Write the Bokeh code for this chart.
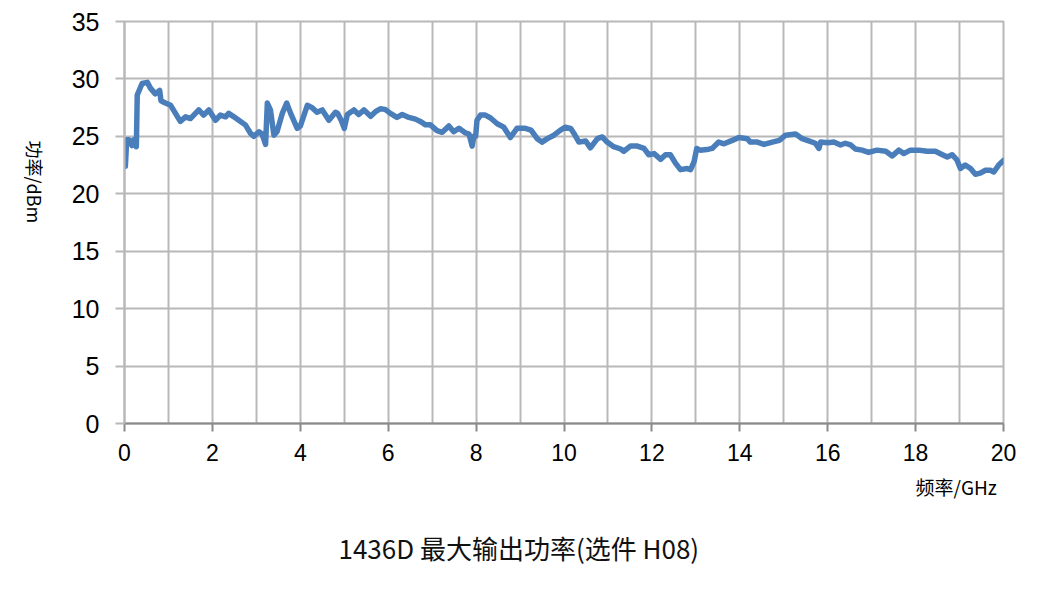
import math
from bokeh.plotting import figure
from bokeh.models import ColumnDataSource, Range1d, FixedTicker, Title, LinearAxis
from bokeh.embed import file_html
from bokeh.resources import INLINE

# frequency (GHz) and max output power (dBm)
freq_ghz = [
    0.02, 0.05, 0.10, 0.17, 0.21, 0.27, 0.29, 0.40, 0.52, 0.59, 0.70, 0.80,
    0.83, 0.93, 1.05, 1.27, 1.39, 1.50, 1.69, 1.80, 1.92, 2.07, 2.18, 2.30,
    2.37, 2.49, 2.64, 2.75, 2.87, 2.94, 3.06, 3.13, 3.21, 3.25, 3.32, 3.40,
    3.47, 3.59, 3.69, 3.78, 3.93, 4.00, 4.16, 4.27, 4.38, 4.50, 4.65, 4.80,
    4.85, 4.93, 5.00, 5.07, 5.22, 5.33, 5.45, 5.60, 5.71, 5.82, 5.93, 6.05,
    6.20, 6.32, 6.47, 6.62, 6.73, 6.85, 6.96, 7.11, 7.23, 7.38, 7.49, 7.61,
    7.76, 7.84, 7.91, 7.95, 7.99, 8.02, 8.10, 8.21, 8.33, 8.48, 8.63, 8.78,
    8.93, 9.12, 9.25, 9.39, 9.50, 9.62, 9.77, 9.92, 10.03, 10.15, 10.22,
    10.34, 10.49, 10.60, 10.76, 10.87, 10.98, 11.13, 11.29, 11.36, 11.51,
    11.67, 11.82, 11.93, 12.05, 12.20, 12.31, 12.42, 12.54, 12.65, 12.80,
    12.88, 12.96, 13.02, 13.10, 13.25, 13.37, 13.52, 13.64, 13.83, 13.98,
    14.17, 14.24, 14.40, 14.55, 14.74, 14.90, 15.04, 15.27, 15.42, 15.57,
    15.72, 15.80, 15.84, 16.00, 16.14, 16.29, 16.40, 16.52, 16.63, 16.78,
    16.93, 17.12, 17.32, 17.47, 17.62, 17.73, 17.88, 18.07, 18.26, 18.45,
    18.61, 18.72, 18.83, 18.94, 19.02, 19.13, 19.25, 19.36, 19.47, 19.59,
    19.70, 19.78, 19.89, 20.00,
]
power_dbm = [
    22.4, 24.7, 24.7, 24.2, 24.7, 24.1, 28.6, 29.6, 29.7, 29.2, 28.7, 29.0,
    28.1, 27.9, 27.7, 26.3, 26.7, 26.55, 27.3, 26.85, 27.3, 26.4, 26.85, 26.7,
    27.0, 26.7, 26.3, 26.0, 25.25, 25.0, 25.4, 25.2, 24.3, 27.9, 27.3, 25.1,
    25.4, 27.0, 27.9, 27.0, 25.7, 25.9, 27.7, 27.5, 27.1, 27.3, 26.4, 27.1,
    27.0, 26.4, 25.7, 26.9, 27.3, 26.9, 27.3, 26.75, 27.15, 27.4, 27.35, 27.0,
    26.65, 26.9, 26.65, 26.5, 26.3, 26.0, 26.0, 25.5, 25.35, 25.9, 25.4, 25.7,
    25.3, 25.2, 24.15, 25.0, 25.0, 26.4, 26.85, 26.85, 26.6, 26.1, 25.8, 24.9,
    25.7, 25.7, 25.55, 24.8, 24.5, 24.8, 25.1, 25.55, 25.8, 25.7, 25.3,
    24.5, 24.6, 24.0, 24.8, 24.95, 24.5, 24.1, 23.9, 23.7, 24.15,
    24.15, 23.95, 23.4, 23.5, 23.0, 23.4, 23.4, 22.65, 22.1, 22.2,
    22.1, 22.8, 23.95, 23.8, 23.85, 23.95, 24.5, 24.35, 24.65, 24.9,
    24.8, 24.5, 24.5, 24.3, 24.5, 24.65, 25.1, 25.2, 24.8, 24.6,
    24.4, 23.95, 24.5, 24.45, 24.5, 24.25, 24.4, 24.25, 23.9, 23.8,
    23.6, 23.8, 23.7, 23.3, 23.8, 23.5, 23.8, 23.8, 23.7, 23.7,
    23.4, 23.2, 23.4, 22.95, 22.2, 22.5, 22.2, 21.7, 21.8, 22.05,
    22.05, 21.9, 22.5, 22.9,
]

x_ticks = [0, 2, 4, 6, 8, 10, 12, 14, 16, 18, 20]
x_minor = [1, 3, 5, 7, 9, 11, 13, 15, 17, 19]
y_ticks = [0, 5, 10, 15, 20, 25, 30, 35]

title_text = "1436D 最大输出功率(选件 H08)"
x_title = "频率/GHz"
y_title = "功率/dBm"

GRID = "#b8b8b8"
BLUE = "#4a7ebb"
CJK = "Noto Sans CJK SC"

src = ColumnDataSource(dict(freq=freq_ghz, power=power_dbm))

p = figure(
    width=1060,
    height=585,
    x_range=Range1d(0, 20),
    y_range=Range1d(0, 35),
    output_backend="svg",
    toolbar_location=None,
    min_border_left=124,
    min_border_right=57,
    min_border_top=21,
    min_border_bottom=161,
)
p.background_fill_color = "white"
p.border_fill_color = "white"
p.outline_line_color = GRID
p.outline_line_width = 2

# grid
p.xaxis.ticker = FixedTicker(ticks=x_ticks, minor_ticks=x_minor)
p.yaxis.ticker = FixedTicker(ticks=y_ticks)
p.xgrid.grid_line_color = GRID
p.xgrid.grid_line_width = 2
p.xgrid.minor_grid_line_color = GRID
p.xgrid.minor_grid_line_width = 2
p.ygrid.grid_line_color = GRID
p.ygrid.grid_line_width = 2

# axes
for ax in (p.xaxis, p.yaxis):
    ax.major_label_text_font = "Liberation Sans"
    ax.major_label_text_color = "black"
    ax.minor_tick_line_color = None
    ax.major_tick_in = 0

p.xaxis.axis_line_color = "#8a8a8a"
p.xaxis.axis_line_width = 2
p.xaxis.major_tick_line_color = "#8a8a8a"
p.xaxis.major_tick_line_width = 2
p.xaxis.major_tick_out = 8
p.xaxis.major_label_text_font_size = "23px"
p.xaxis.major_label_standoff = 12

p.yaxis.axis_line_color = GRID
p.yaxis.axis_line_width = 2
p.yaxis.major_tick_line_color = GRID
p.yaxis.major_tick_line_width = 2
p.yaxis.major_tick_out = 9
p.yaxis.major_label_text_font_size = "25px"
p.yaxis.major_label_standoff = 16

# y axis title, reading top to bottom, on a bare axis of its own
ylab_axis = LinearAxis(
    ticker=FixedTicker(ticks=[]),
    axis_line_color=None,
    major_tick_line_color=None,
    minor_tick_line_color=None,
    major_label_text_font_size="0px",
    major_label_standoff=0,
    major_tick_out=0,
    axis_label=y_title,
    axis_label_text_font=CJK,
    axis_label_text_font_size="18px",
    axis_label_text_font_style="normal",
    axis_label_text_color="black",
    axis_label_standoff=34,
)
if "axis_label_orientation" in ylab_axis.properties():
    ylab_axis.axis_label_orientation = -math.pi / 2
p.add_layout(ylab_axis, "left")

# curve
p.line(
    "freq", "power", source=src,
    line_color=BLUE, line_width=5.5, line_join="round", line_cap="round",
)

# x axis title and chart title below the plot
p.add_layout(Title(
    text=x_title, align="left", offset=791,
    text_font=CJK, text_font_size="19px", text_font_style="normal",
    text_color="black", standoff=14,
), "below")
p.add_layout(Title(
    text=title_text, align="left", offset=214,
    text_font=CJK, text_font_size="26px", text_font_style="normal",
    text_color="#111111", standoff=40,
), "below")

open("out.html", "w").write(file_html(p, INLINE))
